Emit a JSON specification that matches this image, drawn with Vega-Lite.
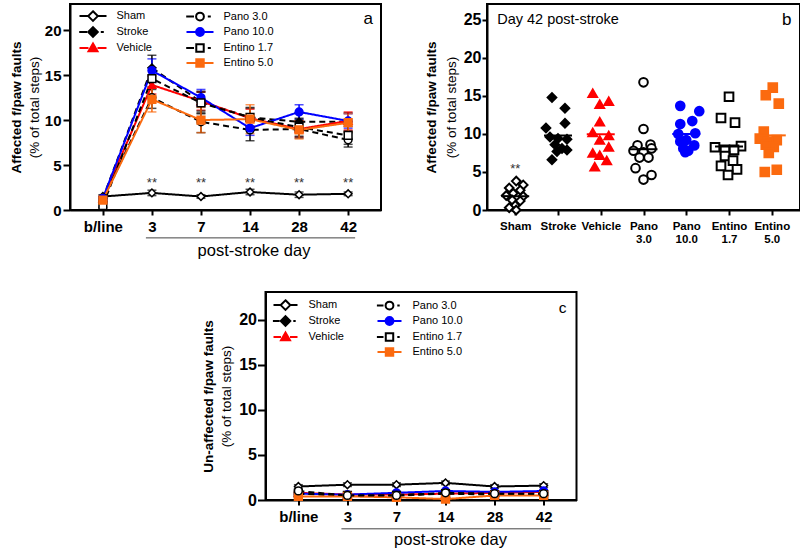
{
"$schema": "https://vega.github.io/schema/vega-lite/v6.json",
"background": "white",
"padding": {"left": 8, "top": 3, "right": 2, "bottom": 2},
"config": {
  "font": "Liberation Sans",
  "view": {"stroke": "black", "strokeWidth": 2},
  "axis": {"grid": false, "domainColor": "black", "domainWidth": 2, "tickColor": "black", "tickWidth": 2, "labelColor": "black", "titleColor": "black", "labelFont": "Liberation Sans", "titleFont": "Liberation Sans"},
  "legend": {"labelFont": "Liberation Sans", "labelColor": "black"},
  "text": {"font": "Liberation Sans"}
},
"datasets": {
  "A": [
    {"group": "Sham", "day": "b/line", "mean": 1.5, "lo": 1.3, "hi": 1.7},
    {"group": "Sham", "day": "3", "mean": 1.9, "lo": 1.6, "hi": 2.2},
    {"group": "Sham", "day": "7", "mean": 1.5, "lo": 1.3, "hi": 1.7},
    {"group": "Sham", "day": "14", "mean": 2.0, "lo": 1.7, "hi": 2.3},
    {"group": "Sham", "day": "28", "mean": 1.7, "lo": 1.4, "hi": 2.0},
    {"group": "Sham", "day": "42", "mean": 1.8, "lo": 1.6, "hi": 2.0},
    {"group": "Stroke", "day": "b/line", "mean": 1.3, "lo": 1.1, "hi": 1.5},
    {"group": "Stroke", "day": "3", "mean": 15.8, "lo": 14.4, "hi": 17.2},
    {"group": "Stroke", "day": "7", "mean": 12.0, "lo": 10.8, "hi": 13.2},
    {"group": "Stroke", "day": "14", "mean": 10.3, "lo": 9.3, "hi": 11.3},
    {"group": "Stroke", "day": "28", "mean": 9.8, "lo": 8.8, "hi": 10.8},
    {"group": "Stroke", "day": "42", "mean": 9.8, "lo": 8.8, "hi": 10.8},
    {"group": "Vehicle", "day": "b/line", "mean": 1.3, "lo": 1.1, "hi": 1.5},
    {"group": "Vehicle", "day": "3", "mean": 13.9, "lo": 12.9, "hi": 14.9},
    {"group": "Vehicle", "day": "7", "mean": 12.1, "lo": 11.1, "hi": 13.1},
    {"group": "Vehicle", "day": "14", "mean": 10.2, "lo": 9.2, "hi": 11.2},
    {"group": "Vehicle", "day": "28", "mean": 9.0, "lo": 8.1, "hi": 9.9},
    {"group": "Vehicle", "day": "42", "mean": 9.9, "lo": 8.9, "hi": 10.9},
    {"group": "Pano 3.0", "day": "b/line", "mean": 1.2, "lo": 1.0, "hi": 1.4},
    {"group": "Pano 3.0", "day": "3", "mean": 12.5, "lo": 11.3, "hi": 13.7},
    {"group": "Pano 3.0", "day": "7", "mean": 9.8, "lo": 8.6, "hi": 11.0},
    {"group": "Pano 3.0", "day": "14", "mean": 8.9, "lo": 7.7, "hi": 10.1},
    {"group": "Pano 3.0", "day": "28", "mean": 9.0, "lo": 8.0, "hi": 10.0},
    {"group": "Pano 3.0", "day": "42", "mean": 7.8, "lo": 7.0, "hi": 8.6},
    {"group": "Pano 10.0", "day": "b/line", "mean": 1.3, "lo": 1.1, "hi": 1.5},
    {"group": "Pano 10.0", "day": "3", "mean": 15.5, "lo": 14.2, "hi": 16.8},
    {"group": "Pano 10.0", "day": "7", "mean": 12.5, "lo": 11.6, "hi": 13.4},
    {"group": "Pano 10.0", "day": "14", "mean": 9.1, "lo": 8.3, "hi": 9.9},
    {"group": "Pano 10.0", "day": "28", "mean": 10.9, "lo": 10.1, "hi": 11.7},
    {"group": "Pano 10.0", "day": "42", "mean": 9.9, "lo": 9.1, "hi": 10.7},
    {"group": "Entino 1.7", "day": "b/line", "mean": 0.5, "lo": 0.3, "hi": 0.7},
    {"group": "Entino 1.7", "day": "3", "mean": 14.6, "lo": 13.4, "hi": 15.8},
    {"group": "Entino 1.7", "day": "7", "mean": 11.9, "lo": 10.7, "hi": 13.1},
    {"group": "Entino 1.7", "day": "14", "mean": 10.3, "lo": 9.2, "hi": 11.4},
    {"group": "Entino 1.7", "day": "28", "mean": 9.2, "lo": 8.2, "hi": 10.2},
    {"group": "Entino 1.7", "day": "42", "mean": 8.3, "lo": 7.3, "hi": 9.3},
    {"group": "Entino 5.0", "day": "b/line", "mean": 1.1, "lo": 0.9, "hi": 1.3},
    {"group": "Entino 5.0", "day": "3", "mean": 12.3, "lo": 10.9, "hi": 13.7},
    {"group": "Entino 5.0", "day": "7", "mean": 10.0, "lo": 8.6, "hi": 11.4},
    {"group": "Entino 5.0", "day": "14", "mean": 10.1, "lo": 8.5, "hi": 11.7},
    {"group": "Entino 5.0", "day": "28", "mean": 8.9, "lo": 7.9, "hi": 9.9},
    {"group": "Entino 5.0", "day": "42", "mean": 9.7, "lo": 8.7, "hi": 10.7}
  ],
  "C": [
    {"group": "Sham", "day": "b/line", "mean": 1.5, "lo": 1.3, "hi": 1.7},
    {"group": "Sham", "day": "3", "mean": 1.7, "lo": 1.5, "hi": 1.9},
    {"group": "Sham", "day": "7", "mean": 1.7, "lo": 1.5, "hi": 1.9},
    {"group": "Sham", "day": "14", "mean": 1.9, "lo": 1.7, "hi": 2.1},
    {"group": "Sham", "day": "28", "mean": 1.5, "lo": 1.3, "hi": 1.7},
    {"group": "Sham", "day": "42", "mean": 1.6, "lo": 1.4, "hi": 1.8},
    {"group": "Stroke", "day": "b/line", "mean": 0.8, "lo": 0.6, "hi": 1.0},
    {"group": "Stroke", "day": "3", "mean": 0.5, "lo": 0.4, "hi": 0.6},
    {"group": "Stroke", "day": "7", "mean": 0.6, "lo": 0.5, "hi": 0.7},
    {"group": "Stroke", "day": "14", "mean": 0.7, "lo": 0.5, "hi": 0.9},
    {"group": "Stroke", "day": "28", "mean": 0.8, "lo": 0.6, "hi": 1.0},
    {"group": "Stroke", "day": "42", "mean": 0.8, "lo": 0.6, "hi": 1.0},
    {"group": "Vehicle", "day": "b/line", "mean": 0.8, "lo": 0.7, "hi": 0.9},
    {"group": "Vehicle", "day": "3", "mean": 0.6, "lo": 0.5, "hi": 0.7},
    {"group": "Vehicle", "day": "7", "mean": 0.6, "lo": 0.5, "hi": 0.7},
    {"group": "Vehicle", "day": "14", "mean": 0.7, "lo": 0.6, "hi": 0.8},
    {"group": "Vehicle", "day": "28", "mean": 0.8, "lo": 0.7, "hi": 0.9},
    {"group": "Vehicle", "day": "42", "mean": 0.9, "lo": 0.8, "hi": 1.0},
    {"group": "Pano 10.0", "day": "b/line", "mean": 0.7, "lo": 0.6, "hi": 0.8},
    {"group": "Pano 10.0", "day": "3", "mean": 0.6, "lo": 0.5, "hi": 0.7},
    {"group": "Pano 10.0", "day": "7", "mean": 0.8, "lo": 0.7, "hi": 0.9},
    {"group": "Pano 10.0", "day": "14", "mean": 1.0, "lo": 0.9, "hi": 1.1},
    {"group": "Pano 10.0", "day": "28", "mean": 0.9, "lo": 0.8, "hi": 1.0},
    {"group": "Pano 10.0", "day": "42", "mean": 1.0, "lo": 0.9, "hi": 1.1},
    {"group": "Entino 1.7", "day": "b/line", "mean": 0.7, "lo": 0.5, "hi": 0.9},
    {"group": "Entino 1.7", "day": "3", "mean": 0.5, "lo": 0.4, "hi": 0.6},
    {"group": "Entino 1.7", "day": "7", "mean": 0.5, "lo": 0.4, "hi": 0.6},
    {"group": "Entino 1.7", "day": "14", "mean": 0.7, "lo": 0.6, "hi": 0.8},
    {"group": "Entino 1.7", "day": "28", "mean": 0.6, "lo": 0.5, "hi": 0.7},
    {"group": "Entino 1.7", "day": "42", "mean": 0.6, "lo": 0.5, "hi": 0.7},
    {"group": "Entino 5.0", "day": "b/line", "mean": 0.4, "lo": 0.3, "hi": 0.5},
    {"group": "Entino 5.0", "day": "3", "mean": 0.4, "lo": 0.3, "hi": 0.5},
    {"group": "Entino 5.0", "day": "7", "mean": 0.3, "lo": 0.2, "hi": 0.4},
    {"group": "Entino 5.0", "day": "14", "mean": 0.1, "lo": 0.0, "hi": 0.3},
    {"group": "Entino 5.0", "day": "28", "mean": 0.5, "lo": 0.4, "hi": 0.6},
    {"group": "Entino 5.0", "day": "42", "mean": 0.5, "lo": 0.4, "hi": 0.6},
    {"group": "Pano 3.0", "day": "b/line", "mean": 1.0, "lo": 0.8, "hi": 1.2},
    {"group": "Pano 3.0", "day": "3", "mean": 0.5, "lo": 0.4, "hi": 0.6},
    {"group": "Pano 3.0", "day": "7", "mean": 0.5, "lo": 0.4, "hi": 0.6},
    {"group": "Pano 3.0", "day": "14", "mean": 0.8, "lo": 0.6, "hi": 1.0},
    {"group": "Pano 3.0", "day": "28", "mean": 0.7, "lo": 0.6, "hi": 0.8},
    {"group": "Pano 3.0", "day": "42", "mean": 0.7, "lo": 0.6, "hi": 0.8}
  ],
  "B": [
    {"group": "Sham", "value": 3.8, "jitter": 1},
    {"group": "Sham", "value": 3.3, "jitter": 8},
    {"group": "Sham", "value": 2.9, "jitter": -6},
    {"group": "Sham", "value": 2.6, "jitter": 5},
    {"group": "Sham", "value": 2.2, "jitter": -2},
    {"group": "Sham", "value": 1.9, "jitter": -9},
    {"group": "Sham", "value": 1.8, "jitter": 8},
    {"group": "Sham", "value": 1.3, "jitter": -3},
    {"group": "Sham", "value": 1.2, "jitter": 5},
    {"group": "Sham", "value": 0.6, "jitter": 0},
    {"group": "Sham", "value": 0.3, "jitter": -6},
    {"group": "Sham", "value": 0.0, "jitter": 1},
    {"group": "Stroke", "value": 14.8, "jitter": -6},
    {"group": "Stroke", "value": 13.4, "jitter": 7},
    {"group": "Stroke", "value": 11.4, "jitter": 7},
    {"group": "Stroke", "value": 10.8, "jitter": -12},
    {"group": "Stroke", "value": 9.6, "jitter": -8},
    {"group": "Stroke", "value": 9.4, "jitter": 0},
    {"group": "Stroke", "value": 9.3, "jitter": 9},
    {"group": "Stroke", "value": 8.6, "jitter": -3},
    {"group": "Stroke", "value": 8.1, "jitter": 4},
    {"group": "Stroke", "value": 7.9, "jitter": 9},
    {"group": "Stroke", "value": 7.7, "jitter": -1},
    {"group": "Stroke", "value": 6.6, "jitter": -6},
    {"group": "Vehicle", "value": 15.35, "jitter": -8},
    {"group": "Vehicle", "value": 14.3, "jitter": 8},
    {"group": "Vehicle", "value": 13.9, "jitter": -1},
    {"group": "Vehicle", "value": 11.6, "jitter": -1},
    {"group": "Vehicle", "value": 10.2, "jitter": -8},
    {"group": "Vehicle", "value": 9.8, "jitter": 8},
    {"group": "Vehicle", "value": 9.2, "jitter": -1},
    {"group": "Vehicle", "value": 8.3, "jitter": 8},
    {"group": "Vehicle", "value": 7.5, "jitter": -8},
    {"group": "Vehicle", "value": 7.2, "jitter": -1},
    {"group": "Vehicle", "value": 6.5, "jitter": 6},
    {"group": "Vehicle", "value": 5.7, "jitter": -6},
    {"group": "Pano 3.0", "value": 16.8, "jitter": 0},
    {"group": "Pano 3.0", "value": 10.65, "jitter": 0},
    {"group": "Pano 3.0", "value": 8.6, "jitter": 7},
    {"group": "Pano 3.0", "value": 8.5, "jitter": -6},
    {"group": "Pano 3.0", "value": 8.1, "jitter": 8},
    {"group": "Pano 3.0", "value": 7.8, "jitter": -10},
    {"group": "Pano 3.0", "value": 7.6, "jitter": 0},
    {"group": "Pano 3.0", "value": 6.9, "jitter": -4},
    {"group": "Pano 3.0", "value": 6.9, "jitter": 5},
    {"group": "Pano 3.0", "value": 5.5, "jitter": -8},
    {"group": "Pano 3.0", "value": 4.6, "jitter": 8},
    {"group": "Pano 3.0", "value": 4.0, "jitter": 0},
    {"group": "Pano 10.0", "value": 13.7, "jitter": -6},
    {"group": "Pano 10.0", "value": 13.0, "jitter": 13},
    {"group": "Pano 10.0", "value": 11.7, "jitter": 6},
    {"group": "Pano 10.0", "value": 11.3, "jitter": -6},
    {"group": "Pano 10.0", "value": 10.1, "jitter": 9},
    {"group": "Pano 10.0", "value": 10.0, "jitter": -8},
    {"group": "Pano 10.0", "value": 9.2, "jitter": 0},
    {"group": "Pano 10.0", "value": 9.0, "jitter": -6},
    {"group": "Pano 10.0", "value": 8.5, "jitter": 8},
    {"group": "Pano 10.0", "value": 8.1, "jitter": -3},
    {"group": "Pano 10.0", "value": 7.8, "jitter": 2},
    {"group": "Pano 10.0", "value": 7.6, "jitter": -1},
    {"group": "Entino 1.7", "value": 14.9, "jitter": 0},
    {"group": "Entino 1.7", "value": 12.1, "jitter": -8},
    {"group": "Entino 1.7", "value": 11.5, "jitter": 6},
    {"group": "Entino 1.7", "value": 8.25, "jitter": -14},
    {"group": "Entino 1.7", "value": 8.4, "jitter": 12},
    {"group": "Entino 1.7", "value": 7.9, "jitter": -4},
    {"group": "Entino 1.7", "value": 7.9, "jitter": 5},
    {"group": "Entino 1.7", "value": 7.1, "jitter": -4},
    {"group": "Entino 1.7", "value": 6.5, "jitter": 4},
    {"group": "Entino 1.7", "value": 5.8, "jitter": -8},
    {"group": "Entino 1.7", "value": 5.35, "jitter": 8},
    {"group": "Entino 1.7", "value": 4.6, "jitter": -1},
    {"group": "Entino 5.0", "value": 16.1, "jitter": 1},
    {"group": "Entino 5.0", "value": 15.1, "jitter": -6},
    {"group": "Entino 5.0", "value": 14.0, "jitter": 7},
    {"group": "Entino 5.0", "value": 10.3, "jitter": -8},
    {"group": "Entino 5.0", "value": 9.4, "jitter": -12},
    {"group": "Entino 5.0", "value": 9.2, "jitter": 5},
    {"group": "Entino 5.0", "value": 9.0, "jitter": -4},
    {"group": "Entino 5.0", "value": 8.6, "jitter": -6},
    {"group": "Entino 5.0", "value": 8.3, "jitter": 2},
    {"group": "Entino 5.0", "value": 7.5, "jitter": -3},
    {"group": "Entino 5.0", "value": 5.3, "jitter": 5},
    {"group": "Entino 5.0", "value": 5.0, "jitter": -7}
  ]
},
"spacing": 30,
"center": true,
"vconcat": [
 {
  "spacing": 41,
  "hconcat": [
   {
    "width": 311, "height": 206,
    "data": {"name": "A"},
    "layer": [
     {
      "mark": {"type": "line", "strokeWidth": 2},
      "encoding": {
        "x": {"field": "day", "type": "ordinal", "scale": {"type": "point", "padding": 0.67, "domain": ["b/line", "3", "7", "14", "28", "42"]}, "axis": {"title": null, "labelAngle": 0, "labelFontSize": 15, "labelFontWeight": "bold", "tickSize": 5, "labelPadding": 4}},
        "y": {"field": "mean", "type": "quantitative", "scale": {"domain": [0, 22.9]}, "axis": {"values": [0, 5, 10, 15, 20], "title": "(% of total steps)", "titleFontWeight": "normal", "titleFontSize": 13.5, "titlePadding": 3, "labelFontSize": 15, "labelFontWeight": "bold", "tickSize": 7, "labelPadding": 2}},
        "color": {"field": "group", "type": "nominal", "scale": {"domain": ["Sham", "Stroke", "Vehicle", "Pano 3.0", "Pano 10.0", "Entino 1.7", "Entino 5.0"], "range": ["black", "black", "#ff0000", "black", "#0000ff", "black", "#fb6a0f"]}, "legend": null},
        "strokeDash": {"field": "group", "type": "nominal", "scale": {"domain": ["Sham", "Stroke", "Vehicle", "Pano 3.0", "Pano 10.0", "Entino 1.7", "Entino 5.0"], "range": [[1, 0], [6, 4], [1, 0], [6, 4], [1, 0], [6, 4], [1, 0]]}, "legend": null},
        "order": {"value": null}
      }
     },
     {
      "mark": {"type": "errorbar", "ticks": {"size": 9}, "thickness": 1.5},
      "encoding": {
        "x": {"field": "day", "type": "ordinal", "scale": {"type": "point", "padding": 0.67, "domain": ["b/line", "3", "7", "14", "28", "42"]}},
        "y": {"field": "lo", "type": "quantitative", "scale": {"domain": [0, 22.9]}, "axis": null},
        "y2": {"field": "hi"},
        "color": {"field": "group", "type": "nominal", "scale": {"domain": ["Sham", "Stroke", "Vehicle", "Pano 3.0", "Pano 10.0", "Entino 1.7", "Entino 5.0"], "range": ["black", "black", "#ff0000", "black", "#0000ff", "black", "#fb6a0f"]}, "legend": null}
      }
     },
     {
      "mark": {"type": "point", "opacity": 1, "size": 60, "strokeWidth": 1.5},
      "encoding": {
        "x": {"field": "day", "type": "ordinal", "scale": {"type": "point", "padding": 0.67, "domain": ["b/line", "3", "7", "14", "28", "42"]}},
        "y": {"field": "mean", "type": "quantitative", "scale": {"domain": [0, 22.9]}, "axis": null},
        "shape": {"field": "group", "type": "nominal", "scale": {"domain": ["Sham", "Stroke", "Vehicle", "Pano 3.0", "Pano 10.0", "Entino 1.7", "Entino 5.0"], "range": ["diamond", "diamond", "triangle-up", "circle", "circle", "square", "square"]}, "legend": null},
        "fill": {"field": "group", "type": "nominal", "scale": {"domain": ["Sham", "Stroke", "Vehicle", "Pano 3.0", "Pano 10.0", "Entino 1.7", "Entino 5.0"], "range": ["white", "black", "#ff0000", "white", "#0000ff", "white", "#fb6a0f"]}, "legend": null},
        "stroke": {"field": "group", "type": "nominal", "scale": {"domain": ["Sham", "Stroke", "Vehicle", "Pano 3.0", "Pano 10.0", "Entino 1.7", "Entino 5.0"], "range": ["black", "black", "#ff0000", "black", "#0000ff", "black", "#fb6a0f"]}, "legend": null}
      }
     },
     {
      "data": {"values": [{"day": "3"}, {"day": "7"}, {"day": "14"}, {"day": "28"}, {"day": "42"}]},
      "mark": {"type": "text", "text": "**", "fontSize": 13, "color": "#333"},
      "encoding": {
        "x": {"field": "day", "type": "ordinal", "scale": {"type": "point", "padding": 0.67, "domain": ["b/line", "3", "7", "14", "28", "42"]}},
        "y": {"datum": 3.0, "type": "quantitative", "scale": {"domain": [0, 22.9]}, "axis": null}
      }
     },
     {
      "data": {"values": [{}]},
      "mark": {"type": "text", "text": "a", "fontSize": 17, "dx": 20},
      "encoding": {
        "x": {"datum": "42", "type": "ordinal", "scale": {"type": "point", "padding": 0.67, "domain": ["b/line", "3", "7", "14", "28", "42"]}},
        "y": {"datum": 21.2, "type": "quantitative", "scale": {"domain": [0, 22.9]}, "axis": null}
      }
     },
     {
      "data": {"values": [{}]},
      "mark": {"type": "rule", "strokeWidth": 1, "color": "#444", "xOffset": -6, "x2Offset": 7},
      "encoding": {
        "x": {"datum": "3", "type": "ordinal", "scale": {"type": "point", "padding": 0.67, "domain": ["b/line", "3", "7", "14", "28", "42"]}},
        "x2": {"datum": "42"},
        "y": {"datum": -3.1, "type": "quantitative", "scale": {"domain": [0, 22.9]}, "axis": null}
      }
     },
     {
      "data": {"values": [{}]},
      "mark": {"type": "text", "text": "post-stroke day", "fontSize": 16.5, "dx": 4},
      "encoding": {
        "x": {"datum": "14", "type": "ordinal", "scale": {"type": "point", "padding": 0.67, "domain": ["b/line", "3", "7", "14", "28", "42"]}},
        "y": {"datum": -4.6, "type": "quantitative", "scale": {"domain": [0, 22.9]}, "axis": null}
      }
     },
     {
      "transform": [{"filter": "false"}],
      "mark": {"type": "point", "opacity": 1, "size": 144, "strokeWidth": 2},
      "encoding": {
        "x": {"field": "day", "type": "ordinal", "scale": {"type": "point", "padding": 0.67, "domain": ["b/line", "3", "7", "14", "28", "42"]}},
        "y": {"field": "mean", "type": "quantitative", "scale": {"domain": [0, 22.9]}, "axis": {"orient": "left", "title": "Affected f/paw faults", "titleFontWeight": "bold", "titleFontSize": 13.5, "labels": false, "ticks": false, "domain": false, "titlePadding": 47}},
        "shape": {"field": "group", "type": "nominal", "scale": {"domain": ["Sham", "Stroke", "Vehicle", " ", "Pano 3.0", "Pano 10.0", "Entino 1.7", "Entino 5.0"], "range": [
          "M-2.25,0H-0.85M0.85,0H2.25M0,-0.8L0.8,0L0,0.8L-0.8,0Z",
          "M-2.3,0H-1.0M1.3,0H1.8M0,-0.8L0.8,0L0,0.8L-0.8,0Z",
          "M-2.25,0H-0.75M0.75,0H2.25M0,-0.75L0.75,0.55H-0.75Z",
          "M0,0L0,0",
          "M-2.3,0H-1.0M1.3,0H1.8M0.65,0A0.65,0.65,0,1,1,-0.65,0A0.65,0.65,0,1,1,0.65,0Z",
          "M-2.25,0H-0.7M0.7,0H2.25M0.65,0A0.65,0.65,0,1,1,-0.65,0A0.65,0.65,0,1,1,0.65,0Z",
          "M-2.3,0H-1.0M1.3,0H1.8M-0.62,-0.62H0.62V0.62H-0.62Z",
          "M-2.25,0H-0.65M0.65,0H2.25M-0.62,-0.62H0.62V0.62H-0.62Z"
        ]}, "legend": {"orient": "none", "legendX": 16, "legendY": 5, "columns": 2, "title": null, "labelFontSize": 11, "labelOffset": 16.5, "rowPadding": -2.4, "columnPadding": 30, "symbolSize": 144, "symbolStrokeWidth": 2, "padding": 0, "symbolOpacity": 1}},
        "fill": {"field": "group", "type": "nominal", "scale": {"domain": ["Sham", "Stroke", "Vehicle", " ", "Pano 3.0", "Pano 10.0", "Entino 1.7", "Entino 5.0"], "range": ["white", "black", "#ff0000", "transparent", "white", "#0000ff", "white", "#fb6a0f"]}, "legend": {"orient": "none", "legendX": 16, "legendY": 5, "columns": 2, "title": null, "labelFontSize": 11, "labelOffset": 16.5, "rowPadding": -2.4, "columnPadding": 30, "symbolSize": 144, "symbolStrokeWidth": 2, "padding": 0, "symbolOpacity": 1}},
        "stroke": {"field": "group", "type": "nominal", "scale": {"domain": ["Sham", "Stroke", "Vehicle", " ", "Pano 3.0", "Pano 10.0", "Entino 1.7", "Entino 5.0"], "range": ["black", "black", "#ff0000", "transparent", "black", "#0000ff", "black", "#fb6a0f"]}, "legend": {"orient": "none", "legendX": 16, "legendY": 5, "columns": 2, "title": null, "labelFontSize": 11, "labelOffset": 16.5, "rowPadding": -2.4, "columnPadding": 30, "symbolSize": 144, "symbolStrokeWidth": 2, "padding": 0, "symbolOpacity": 1}}
      }
     }
    ],
    "resolve": {"scale": {"shape": "independent", "fill": "independent", "stroke": "independent"}, "axis": {"y": "independent"}}
   },
   {
    "width": 313, "height": 206,
    "data": {"name": "B"},
    "layer": [
     {
      "mark": {"type": "point", "opacity": 1, "size": 75, "strokeWidth": 2},
      "encoding": {
        "x": {"field": "group", "type": "nominal", "scale": {"type": "point", "padding": 0.66, "domain": ["Sham", "Stroke", "Vehicle", "Pano 3.0", "Pano 10.0", "Entino 1.7", "Entino 5.0"]}, "axis": {"title": null, "labelAngle": 0, "labelFontSize": 11.5, "labelFontWeight": "bold", "labelExpr": "split(datum.label, ' ')", "labelLineHeight": 13, "tickSize": 5, "labelPadding": 5}},
        "xOffset": {"field": "jitter", "type": "quantitative", "scale": {"domain": [-20, 20], "range": [-20, 20]}},
        "y": {"field": "value", "type": "quantitative", "scale": {"domain": [0, 27.1]}, "axis": {"values": [0, 5, 10, 15, 20, 25], "title": "(% of total steps)", "titleFontWeight": "normal", "titleFontSize": 13.5, "titlePadding": 5, "labelFontSize": 16, "labelFontWeight": "bold", "tickSize": 5, "labelPadding": 1}},
        "shape": {"field": "group", "type": "nominal", "scale": {"domain": ["Sham", "Stroke", "Vehicle", "Pano 3.0", "Pano 10.0", "Entino 1.7", "Entino 5.0"], "range": ["diamond", "diamond", "triangle-up", "circle", "circle", "square", "square"]}, "legend": null},
        "fill": {"field": "group", "type": "nominal", "scale": {"domain": ["Sham", "Stroke", "Vehicle", "Pano 3.0", "Pano 10.0", "Entino 1.7", "Entino 5.0"], "range": ["white", "black", "#ff0000", "white", "#0000ff", "white", "#fb6a0f"]}, "legend": null},
        "stroke": {"field": "group", "type": "nominal", "scale": {"domain": ["Sham", "Stroke", "Vehicle", "Pano 3.0", "Pano 10.0", "Entino 1.7", "Entino 5.0"], "range": ["black", "black", "#ff0000", "black", "#0000ff", "black", "#fb6a0f"]}, "legend": null}
      }
     },
     {
      "mark": {"type": "tick", "size": 28, "thickness": 2},
      "encoding": {
        "x": {"field": "group", "type": "nominal", "scale": {"type": "point", "padding": 0.66, "domain": ["Sham", "Stroke", "Vehicle", "Pano 3.0", "Pano 10.0", "Entino 1.7", "Entino 5.0"]}},
        "y": {"aggregate": "mean", "field": "value", "type": "quantitative", "scale": {"domain": [0, 27.1]}, "axis": null},
        "color": {"field": "group", "type": "nominal", "scale": {"domain": ["Sham", "Stroke", "Vehicle", "Pano 3.0", "Pano 10.0", "Entino 1.7", "Entino 5.0"], "range": ["black", "black", "#ff0000", "black", "#0000ff", "black", "#fb6a0f"]}, "legend": null}
      }
     },
     {
      "data": {"values": [{}]},
      "mark": {"type": "text", "text": "**", "fontSize": 13, "color": "#333"},
      "encoding": {
        "x": {"datum": "Sham", "type": "nominal", "scale": {"type": "point", "padding": 0.66, "domain": ["Sham", "Stroke", "Vehicle", "Pano 3.0", "Pano 10.0", "Entino 1.7", "Entino 5.0"]}},
        "y": {"datum": 5.4, "type": "quantitative", "scale": {"domain": [0, 27.1]}, "axis": null}
      }
     },
     {
      "data": {"values": [{}]},
      "mark": {"type": "text", "text": "Day 42 post-stroke", "fontSize": 14.5, "align": "left", "dx": -18},
      "encoding": {
        "x": {"datum": "Sham", "type": "nominal", "scale": {"type": "point", "padding": 0.66, "domain": ["Sham", "Stroke", "Vehicle", "Pano 3.0", "Pano 10.0", "Entino 1.7", "Entino 5.0"]}},
        "y": {"datum": 25.0, "type": "quantitative", "scale": {"domain": [0, 27.1]}, "axis": null}
      }
     },
     {
      "data": {"values": [{}]},
      "mark": {"type": "text", "text": "b", "fontSize": 17, "dx": 15},
      "encoding": {
        "x": {"datum": "Entino 5.0", "type": "nominal", "scale": {"type": "point", "padding": 0.66, "domain": ["Sham", "Stroke", "Vehicle", "Pano 3.0", "Pano 10.0", "Entino 1.7", "Entino 5.0"]}},
        "y": {"datum": 25.0, "type": "quantitative", "scale": {"domain": [0, 27.1]}, "axis": null}
      }
     },
     {
      "data": {"values": [{}]},
      "mark": {"type": "text", "text": ""},
      "encoding": {
        "y": {"datum": 0, "type": "quantitative", "scale": {"domain": [0, 27.1]}, "axis": {"orient": "left", "title": "Affected f/paw faults", "titleFontWeight": "bold", "titleFontSize": 13.5, "labels": false, "ticks": false, "domain": false, "titlePadding": 49}}
      }
     }
    ],
    "resolve": {"axis": {"y": "independent"}}
   }
  ]
 },
 {
  "width": 311, "height": 208,
  "data": {"name": "C"},
  "layer": [
   {
    "mark": {"type": "line", "strokeWidth": 2},
    "encoding": {
      "x": {"field": "day", "type": "ordinal", "scale": {"type": "point", "padding": 0.67, "domain": ["b/line", "3", "7", "14", "28", "42"]}, "axis": {"title": null, "labelAngle": 0, "labelFontSize": 15, "labelFontWeight": "bold", "tickSize": 5, "labelPadding": 4}},
      "y": {"field": "mean", "type": "quantitative", "scale": {"domain": [0, 23.1]}, "axis": {"values": [0, 5, 10, 15, 20], "title": "(% of total steps)", "titleFontWeight": "normal", "titleFontSize": 13.5, "titlePadding": 5, "labelFontSize": 16, "labelFontWeight": "bold", "tickSize": 8, "labelPadding": 1}},
      "color": {"field": "group", "type": "nominal", "scale": {"domain": ["Sham", "Stroke", "Vehicle", "Pano 3.0", "Pano 10.0", "Entino 1.7", "Entino 5.0"], "range": ["black", "black", "#ff0000", "black", "#0000ff", "black", "#fb6a0f"]}, "legend": null},
      "strokeDash": {"field": "group", "type": "nominal", "scale": {"domain": ["Sham", "Stroke", "Vehicle", "Pano 3.0", "Pano 10.0", "Entino 1.7", "Entino 5.0"], "range": [[1, 0], [6, 4], [1, 0], [6, 4], [1, 0], [6, 4], [1, 0]]}, "legend": null},
      "order": {"value": null}
    }
   },
   {
    "mark": {"type": "errorbar", "ticks": {"size": 9}, "thickness": 1.5},
    "encoding": {
      "x": {"field": "day", "type": "ordinal", "scale": {"type": "point", "padding": 0.67, "domain": ["b/line", "3", "7", "14", "28", "42"]}},
      "y": {"field": "lo", "type": "quantitative", "scale": {"domain": [0, 23.1]}, "axis": null},
      "y2": {"field": "hi"},
      "color": {"field": "group", "type": "nominal", "scale": {"domain": ["Sham", "Stroke", "Vehicle", "Pano 3.0", "Pano 10.0", "Entino 1.7", "Entino 5.0"], "range": ["black", "black", "#ff0000", "black", "#0000ff", "black", "#fb6a0f"]}, "legend": null}
    }
   },
   {
    "mark": {"type": "point", "opacity": 1, "size": 60, "strokeWidth": 1.5},
    "encoding": {
      "x": {"field": "day", "type": "ordinal", "scale": {"type": "point", "padding": 0.67, "domain": ["b/line", "3", "7", "14", "28", "42"]}},
      "y": {"field": "mean", "type": "quantitative", "scale": {"domain": [0, 23.1]}, "axis": null},
      "shape": {"field": "group", "type": "nominal", "scale": {"domain": ["Sham", "Stroke", "Vehicle", "Pano 3.0", "Pano 10.0", "Entino 1.7", "Entino 5.0"], "range": ["diamond", "diamond", "triangle-up", "circle", "circle", "square", "square"]}, "legend": null},
      "fill": {"field": "group", "type": "nominal", "scale": {"domain": ["Sham", "Stroke", "Vehicle", "Pano 3.0", "Pano 10.0", "Entino 1.7", "Entino 5.0"], "range": ["white", "black", "#ff0000", "white", "#0000ff", "white", "#fb6a0f"]}, "legend": null},
      "stroke": {"field": "group", "type": "nominal", "scale": {"domain": ["Sham", "Stroke", "Vehicle", "Pano 3.0", "Pano 10.0", "Entino 1.7", "Entino 5.0"], "range": ["black", "black", "#ff0000", "black", "#0000ff", "black", "#fb6a0f"]}, "legend": null}
    }
   },
   {
    "data": {"values": [{}]},
    "mark": {"type": "text", "text": "c", "fontSize": 15.5, "dx": 19},
    "encoding": {
      "x": {"datum": "42", "type": "ordinal", "scale": {"type": "point", "padding": 0.67, "domain": ["b/line", "3", "7", "14", "28", "42"]}},
      "y": {"datum": 21.3, "type": "quantitative", "scale": {"domain": [0, 23.1]}, "axis": {"orient": "right", "title": "c", "titleOpacity": 0, "titleFontSize": 13, "labels": false, "ticks": false, "domain": false, "titlePadding": 15}}
    }
   },
   {
    "data": {"values": [{}]},
    "mark": {"type": "rule", "strokeWidth": 1, "color": "#444", "xOffset": -6, "x2Offset": 7},
    "encoding": {
      "x": {"datum": "3", "type": "ordinal", "scale": {"type": "point", "padding": 0.67, "domain": ["b/line", "3", "7", "14", "28", "42"]}},
      "x2": {"datum": "42"},
      "y": {"datum": -3.2, "type": "quantitative", "scale": {"domain": [0, 23.1]}, "axis": null}
    }
   },
   {
    "data": {"values": [{}]},
    "mark": {"type": "text", "text": "post-stroke day", "fontSize": 16.5, "dx": 5},
    "encoding": {
      "x": {"datum": "14", "type": "ordinal", "scale": {"type": "point", "padding": 0.67, "domain": ["b/line", "3", "7", "14", "28", "42"]}},
      "y": {"datum": -4.4, "type": "quantitative", "scale": {"domain": [0, 23.1]}, "axis": null}
    }
   },
   {
    "transform": [{"filter": "false"}],
    "mark": {"type": "point", "opacity": 1, "size": 144, "strokeWidth": 2},
    "encoding": {
      "x": {"field": "day", "type": "ordinal", "scale": {"type": "point", "padding": 0.67, "domain": ["b/line", "3", "7", "14", "28", "42"]}},
      "y": {"field": "mean", "type": "quantitative", "scale": {"domain": [0, 23.1]}, "axis": {"orient": "left", "title": "Un-affected f/paw faults", "titleFontWeight": "bold", "titleFontSize": 13.5, "labels": false, "ticks": false, "domain": false, "titlePadding": 50}},
      "shape": {"field": "group", "type": "nominal", "scale": {"domain": ["Sham", "Stroke", "Vehicle", " ", "Pano 3.0", "Pano 10.0", "Entino 1.7", "Entino 5.0"], "range": [
        "M-2.0,0H-0.85M0.85,0H2.0M0,-0.8L0.8,0L0,0.8L-0.8,0Z",
        "M-2.1,0H-1.0M1.3,0H1.7M0,-0.8L0.8,0L0,0.8L-0.8,0Z",
        "M-2.0,0H-0.75M0.75,0H2.0M0,-0.75L0.75,0.55H-0.75Z",
        "M0,0L0,0",
        "M-2.1,0H-1.0M1.3,0H1.7M0.65,0A0.65,0.65,0,1,1,-0.65,0A0.65,0.65,0,1,1,0.65,0Z",
        "M-2.0,0H-0.7M0.7,0H2.0M0.65,0A0.65,0.65,0,1,1,-0.65,0A0.65,0.65,0,1,1,0.65,0Z",
        "M-2.1,0H-1.0M1.3,0H1.7M-0.62,-0.62H0.62V0.62H-0.62Z",
        "M-2.0,0H-0.65M0.65,0H2.0M-0.62,-0.62H0.62V0.62H-0.62Z"
      ]}, "legend": {"orient": "none", "legendX": 13, "legendY": 6, "columns": 2, "title": null, "labelFontSize": 11, "labelOffset": 16, "rowPadding": -2.4, "columnPadding": 28, "symbolSize": 144, "symbolStrokeWidth": 2, "padding": 0, "symbolOpacity": 1}},
      "fill": {"field": "group", "type": "nominal", "scale": {"domain": ["Sham", "Stroke", "Vehicle", " ", "Pano 3.0", "Pano 10.0", "Entino 1.7", "Entino 5.0"], "range": ["white", "black", "#ff0000", "transparent", "white", "#0000ff", "white", "#fb6a0f"]}, "legend": {"orient": "none", "legendX": 13, "legendY": 6, "columns": 2, "title": null, "labelFontSize": 11, "labelOffset": 16, "rowPadding": -2.4, "columnPadding": 28, "symbolSize": 144, "symbolStrokeWidth": 2, "padding": 0, "symbolOpacity": 1}},
      "stroke": {"field": "group", "type": "nominal", "scale": {"domain": ["Sham", "Stroke", "Vehicle", " ", "Pano 3.0", "Pano 10.0", "Entino 1.7", "Entino 5.0"], "range": ["black", "black", "#ff0000", "transparent", "black", "#0000ff", "black", "#fb6a0f"]}, "legend": {"orient": "none", "legendX": 13, "legendY": 6, "columns": 2, "title": null, "labelFontSize": 11, "labelOffset": 16, "rowPadding": -2.4, "columnPadding": 28, "symbolSize": 144, "symbolStrokeWidth": 2, "padding": 0, "symbolOpacity": 1}}
    }
   }
  ],
  "resolve": {"scale": {"shape": "independent", "fill": "independent", "stroke": "independent"}, "axis": {"y": "independent"}}
 }
]
}
